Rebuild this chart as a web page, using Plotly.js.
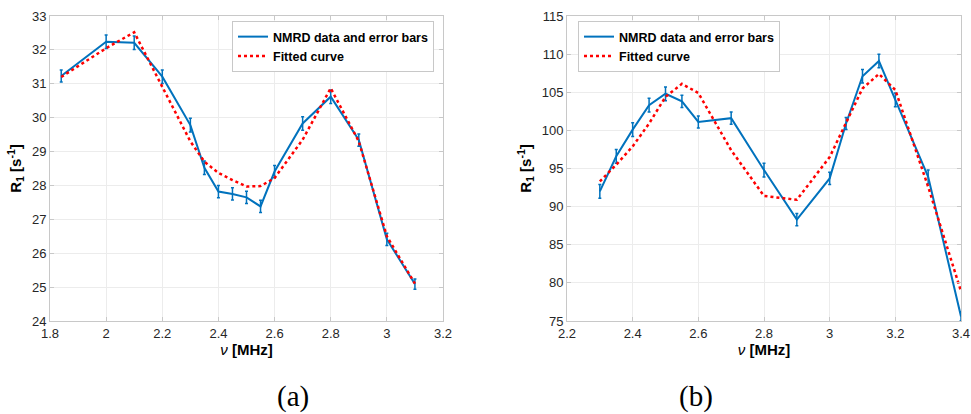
<!DOCTYPE html>
<html>
<head>
<meta charset="utf-8">
<script src="https://cdn.plot.ly/plotly-3.0.1.min.js"></script>
<style>html,body{margin:0;padding:0;background:#fff;}#chart{width:971px;height:414px;}</style>
</head>
<body>
<div id="chart"></div>
<script>
// Panel (a)
const freqA = [1.84, 2.0, 2.1, 2.2, 2.3, 2.35, 2.4, 2.45, 2.5, 2.55, 2.6, 2.7, 2.8, 2.9, 3.0, 3.1];
const r1A = [31.23, 32.24, 32.21, 31.21, 29.78, 28.52, 27.82, 27.75, 27.65, 27.38, 28.41, 29.83, 30.62, 29.34, 26.41, 25.09];
const errA = [0.18, 0.2, 0.2, 0.2, 0.2, 0.2, 0.18, 0.18, 0.18, 0.18, 0.18, 0.2, 0.2, 0.18, 0.18, 0.15];
const fitA = [31.2, 32.05, 32.52, 30.9, 29.3, 28.7, 28.37, 28.16, 27.97, 27.98, 28.22, 29.35, 30.87, 29.3, 26.5, 25.1];
// Panel (b)
const freqB = [2.3, 2.35, 2.4, 2.45, 2.5, 2.55, 2.6, 2.7, 2.8, 2.9, 3.0, 3.05, 3.1, 3.15, 3.2, 3.3, 3.4];
const r1B = [92.0, 96.6, 100.1, 103.3, 104.8, 103.8, 101.1, 101.6, 94.8, 88.3, 93.7, 100.9, 107.1, 109.1, 104.0, 93.9, 75.6];
const errB = [0.9, 0.9, 0.9, 0.9, 0.9, 0.8, 0.8, 0.8, 0.9, 0.8, 0.8, 0.8, 0.9, 0.9, 0.9, 0.9, 0.6];
const fitB = [93.3, 95.5, 97.9, 100.9, 104.4, 106.1, 104.9, 97.4, 91.4, 90.9, 96.5, 100.9, 105.5, 107.4, 105.3, 92.6, 78.9];

const legendNames = ['NMRD data and error bars', 'Fitted curve'];
const captions = ['(a)', '(b)'];

const blue = '#0072BD';
const red = '#FF0000';
const font = 'Liberation Sans, Arial, sans-serif';

function dataTrace(x, y, e, xa, ya, leg) {
  return {x: x, y: y, xaxis: xa, yaxis: ya, type: 'scatter', mode: 'lines', name: legendNames[0], legend: leg,
    line: {color: blue, width: 2},
    error_y: {type: 'data', array: e, visible: true, color: blue, thickness: 1.5, width: 1.5}};
}
function fitTrace(x, y, xa, ya, leg) {
  return {x: x, y: y, xaxis: xa, yaxis: ya, type: 'scatter', mode: 'lines', name: legendNames[1], legend: leg,
    line: {color: red, width: 2.5, dash: 'dot'}};
}

const traces = [
  dataTrace(freqA, r1A, errA, 'x', 'y', 'legend'),
  fitTrace(freqA, fitA, 'x', 'y', 'legend'),
  dataTrace(freqB, r1B, errB, 'x2', 'y2', 'legend2'),
  fitTrace(freqB, fitB, 'x2', 'y2', 'legend2')
];

const axCommon = {
  showline: true, mirror: 'ticks', linecolor: '#c8c8c8', linewidth: 1,
  ticks: 'inside', ticklen: 4, tickcolor: '#c8c8c8',
  showgrid: true, gridcolor: '#ececec', gridwidth: 1, zeroline: false,
  tickfont: {family: font, size: 13, color: '#262626'},
  automargin: false
};
const xTitle = {text: '<i>ν</i> <b>[MHz]</b>', font: {family: font, size: 15, color: '#000'}, standoff: 4};
const yTitle = {text: '<b>R<sub>1</sub> [s<sup>-1</sup>]</b>', font: {family: font, size: 15, color: '#000'}, standoff: 6};

const legendStyle = {
  bgcolor: '#fff', bordercolor: '#c8c8c8', borderwidth: 1,
  font: {family: font, size: 12.5, color: '#000', weight: 'bold'},
  xanchor: 'left', yanchor: 'top', tracegroupgap: 0, itemwidth: 30
};

const capY = (321 - 396) / 305;

const layout = {
  width: 971, height: 414,
  margin: {l: 0, r: 0, t: 16, b: 93},
  paper_bgcolor: '#fff', plot_bgcolor: '#fff',
  showlegend: true,
  xaxis: Object.assign({}, axCommon, {domain: [50/971, 443/971], range: [1.8, 3.2], dtick: 0.2, anchor: 'y', title: xTitle}),
  yaxis: Object.assign({}, axCommon, {domain: [0, 1], range: [24, 33], dtick: 1, anchor: 'x', title: yTitle}),
  xaxis2: Object.assign({}, axCommon, {domain: [567/971, 961/971], range: [2.2, 3.4], dtick: 0.2, anchor: 'y2', title: xTitle}),
  yaxis2: Object.assign({}, axCommon, {domain: [0, 1], range: [75, 115], dtick: 5, anchor: 'x2', title: yTitle}),
  legend: Object.assign({}, legendStyle, {x: 232/971, y: 1 - (21 - 16)/305, xref: 'paper', yref: 'paper'}),
  legend2: Object.assign({}, legendStyle, {x: 578/971, y: 1 - (21 - 16)/305, xref: 'paper', yref: 'paper'}),
  annotations: [
    {text: captions[0], xref: 'paper', yref: 'paper', x: 275/971, y: capY, showarrow: false,
     font: {family: 'Liberation Serif, DejaVu Serif, serif', size: 29, color: '#000'}, yanchor: 'middle'},
    {text: captions[1], xref: 'paper', yref: 'paper', x: 715/971, y: capY, showarrow: false,
     font: {family: 'Liberation Serif, DejaVu Serif, serif', size: 29, color: '#000'}, yanchor: 'middle'}
  ]
};

Plotly.newPlot('chart', traces, layout, {displayModeBar: false, staticPlot: true});
</script>
</body>
</html>
